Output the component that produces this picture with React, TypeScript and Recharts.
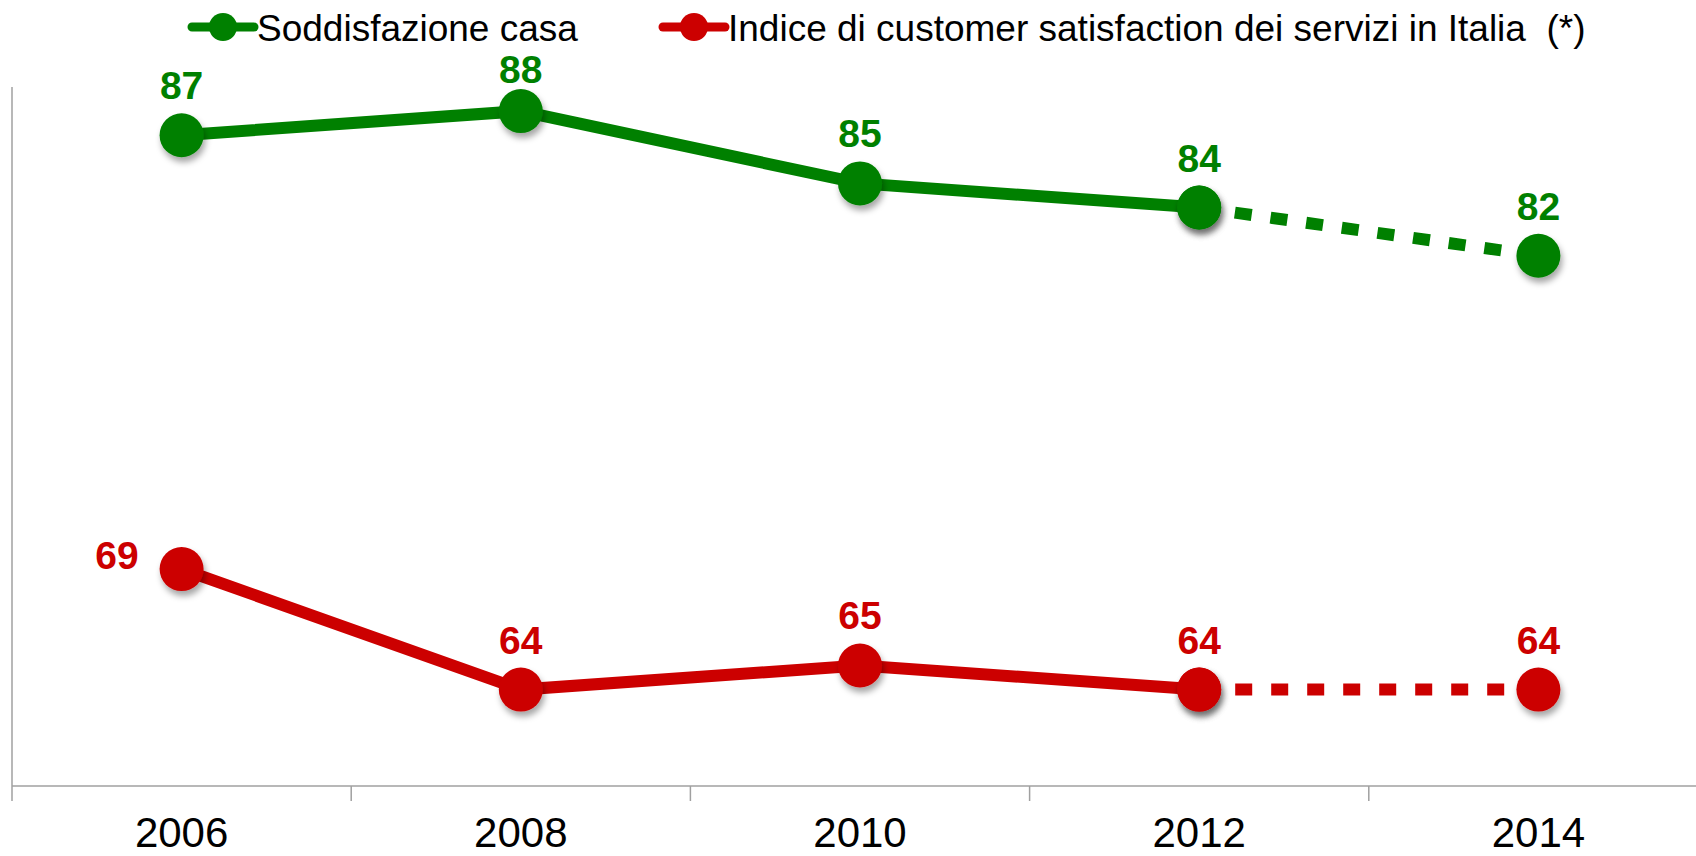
import { LineChart, Line, XAxis, YAxis, LabelList } from "recharts";

const YEARS = ["2006", "2008", "2010", "2012", "2014"];
const CASA = [87, 88, 85, 84, 82];
const ITALIA = [69, 64, 65, 64, 64];
// 2012 -> 2014 is drawn dashed
const LAST_SOLID = 3;

const LEGEND_CASA = "Soddisfazione casa";
const LEGEND_ITALIA = "Indice di customer satisfaction dei servizi in Italia  (*)";

const GREEN = "#008000";
const RED = "#cc0000";
const AXIS = "#a0a0a0";
const FONT = "'Liberation Sans', Arial, Helvetica, sans-serif";

// plot runs a bit past the right edge of the picture, as in the original
const W = 1708;
const H = 856;
const TOP = 87;
const LEFT = 12;
const XH = 70;
const BAND = (W - LEFT) / YEARS.length;
const AXIS_Y = H - XH;

const data = YEARS.map((year, i) => ({
  year,
  casa: CASA[i],
  italia: ITALIA[i],
  casaSolid: i <= LAST_SOLID ? CASA[i] : null,
  casaDash: i >= LAST_SOLID ? CASA[i] : null,
  italiaSolid: i <= LAST_SOLID ? ITALIA[i] : null,
  italiaDash: i >= LAST_SOLID ? ITALIA[i] : null,
}));

const makeDot = (color: string) => (props: any) => {
  const { cx, cy, index, value } = props;
  if (value == null || cy == null || isNaN(cy)) return <g key={index} />;
  return <circle key={index} cx={cx} cy={cy} r={22} fill={color} filter="url(#dotShadow)" />;
};

// labels sit above the dots; the first red one goes to the left, the 88 is tucked in under the legend
const makeLabel = (color: string, firstOnLeft: boolean, low?: number) => (props: any) => {
  const { x, y, value, index } = props;
  const left = firstOnLeft && index === 0;
  const up = index === low ? 28 : 36;
  return (
    <text
      key={index}
      x={left ? x - 43 : x}
      y={left ? y : y - up}
      textAnchor={left ? "end" : "middle"}
      fill={color}
      fontSize={39}
      fontWeight="bold"
      fontFamily={FONT}
    >
      {value}
    </text>
  );
};

const YearTick = (props: any) => {
  const { x, payload, index } = props;
  const bx = x - BAND / 2;
  return (
    <g>
      <line x1={bx} x2={bx} y1={index === 0 ? TOP : AXIS_Y} y2={AXIS_Y + 15} stroke={AXIS} strokeWidth={1.5} />
      <text x={x} y={847} textAnchor="middle" fontSize={42} fontFamily={FONT} fill="#000">
        {payload.value}
      </text>
    </g>
  );
};

function LegendItem({ x, color, label }: { x: number; color: string; label: string }) {
  return (
    <g>
      <line x1={x} x2={x + 62} y1={27} y2={27} stroke={color} strokeWidth={9} strokeLinecap="round" />
      <circle cx={x + 31} cy={27} r={14} fill={color} />
      <text x={x + 65} y={41} fontSize={37} fontFamily={FONT} fill="#000" style={{ whiteSpace: "pre" }}>
        {label}
      </text>
    </g>
  );
}

export default function App() {
  return (
    <div style={{ position: "absolute", left: 0, top: 0, width: 1696, height: 856, overflow: "hidden", background: "#fff" }}>
      <svg width={0} height={0} style={{ position: "absolute" }}>
        <defs>
          <filter id="dotShadow" x="-50%" y="-50%" width="200%" height="200%">
            <feDropShadow dx={2} dy={5} stdDeviation={3} floodColor="#000" floodOpacity={0.35} />
          </filter>
        </defs>
      </svg>
      <LineChart width={W} height={H} data={data} margin={{ top: TOP, right: 0, left: LEFT, bottom: 0 }}>
        <XAxis
          dataKey="year"
          scale="band"
          height={XH}
          interval={0}
          axisLine={{ stroke: AXIS, strokeWidth: 1.5 }}
          tickLine={false}
          tick={<YearTick />}
        />
        <YAxis width={0} domain={[60, 89]} hide />
        <Line dataKey="casaSolid" stroke={GREEN} strokeWidth={12} dot={makeDot(GREEN)} activeDot={false} isAnimationActive={false} />
        <Line dataKey="casaDash" stroke={GREEN} strokeWidth={12} strokeDasharray="17 19" dot={makeDot(GREEN)} activeDot={false} isAnimationActive={false} />
        <Line dataKey="italiaSolid" stroke={RED} strokeWidth={12} dot={makeDot(RED)} activeDot={false} isAnimationActive={false} />
        <Line dataKey="italiaDash" stroke={RED} strokeWidth={12} strokeDasharray="17 19" dot={makeDot(RED)} activeDot={false} isAnimationActive={false} />
        <Line dataKey="casa" stroke="none" dot={false} activeDot={false} isAnimationActive={false}>
          <LabelList dataKey="casa" content={makeLabel(GREEN, false, 1)} />
        </Line>
        <Line dataKey="italia" stroke="none" dot={false} activeDot={false} isAnimationActive={false}>
          <LabelList dataKey="italia" content={makeLabel(RED, true)} />
        </Line>
      </LineChart>
      <svg width={1696} height={60} style={{ position: "absolute", left: 0, top: 0 }}>
        <LegendItem x={192} color={GREEN} label={LEGEND_CASA} />
        <LegendItem x={663} color={RED} label={LEGEND_ITALIA} />
      </svg>
    </div>
  );
}
